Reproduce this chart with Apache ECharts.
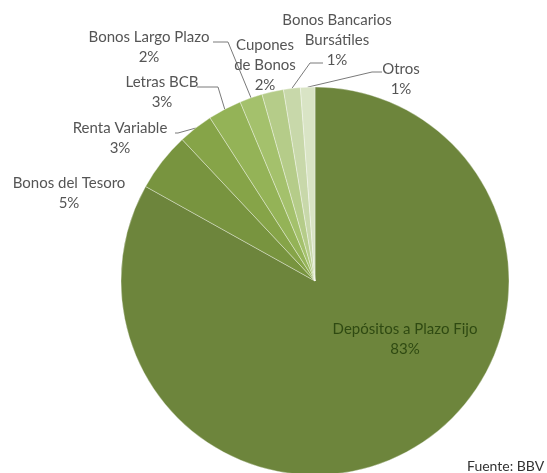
<!DOCTYPE html>
<html><head><meta charset="utf-8">
<script src="https://cdn.jsdelivr.net/npm/echarts@6/dist/echarts.min.js"></script>
<style>html,body{margin:0;padding:0;background:#fff}#c{width:547px;height:473px}</style>
</head><body><div id="c"></div>
<script>
// Data
const categories = ['Depósitos a Plazo Fijo', 'Bonos del Tesoro', 'Renta Variable', 'Letras BCB',
  'Bonos Largo Plazo', 'Cupones de Bonos', 'Bonos Bancarios Bursátiles', 'Otros'];
const values = [83.1, 4.9, 2.9, 2.8, 1.9, 1.8, 1.4, 1.2];
const sourceNote = 'Fuente: BBV';

// Styling / layout (not data)
const colors = ['#6d853c', '#78943f', '#86a448', '#94b357', '#a4c16c', '#b5cc89', '#c8d8aa', '#d9e4c5'];
const wrapped = {'Cupones de Bonos': 'Cupones\nde Bonos', 'Bonos Bancarios Bursátiles': 'Bonos Bancarios\nBursátiles'};
const labelPos = [
  {c: [405, 339]},
  {c: [69, 193]},
  {c: [120, 138], line: [[178, 133], [175, 133]]},
  {c: [162, 92], line: [[218, 87], [197, 87]]},
  {c: [149, 47], line: [[228, 42], [213, 42]]},
  {c: [265, 65]},
  {c: [337, 40], line: [[310, 63], [323, 63]]},
  {c: [401, 79], line: [[372, 72], [382, 72]]}
];
const noLine = [0, 1, 5];

const chart = echarts.init(document.getElementById('c'));
const seriesData = categories.map((name, i) => {
  const item = {name: name, value: values[i], itemStyle: {color: colors[i]}};
  if (noLine.indexOf(i) >= 0) item.labelLine = {show: false};
  if (i === 0) item.label = {position: 'inside', color: '#2f4a12'};
  return item;
});

chart.setOption({
  animation: false,
  backgroundColor: '#ffffff',
  graphic: [{
    type: 'text', left: 467, top: 459,
    style: {text: sourceNote, fontSize: 14, fill: '#333333', fontFamily: 'Lato'}
  }],
  series: [{
    type: 'pie',
    center: [315, 281],
    radius: 194,
    startAngle: 90,
    clockwise: true,
    avoidLabelOverlap: false,
    silent: true,
    itemStyle: {borderColor: 'rgba(255,255,255,0.35)', borderWidth: 1},
    label: {
      show: true,
      position: 'outside',
      color: '#555555',
      fontFamily: 'Lato',
      fontSize: 15,
      lineHeight: 20,
      width: 160,
      overflow: 'none',
      align: 'center',
      formatter: p => (wrapped[p.name] || p.name) + '\n' + Math.round(p.value) + '%'
    },
    labelLine: {show: true, length: 10, length2: 10, lineStyle: {color: '#7a7a7a', width: 1}},
    labelLayout: function (p) {
      const L = labelPos[p.dataIndex];
      const o = {x: L.c[0], y: L.c[1], align: 'center', verticalAlign: 'middle'};
      if (L.line && p.labelLinePoints) {
        const s = p.labelLinePoints[0];
        o.labelLinePoints = [[s[0], s[1]], L.line[0].slice(), L.line[1].slice()];
      }
      return o;
    },
    data: seriesData
  }]
});
</script></body></html>
